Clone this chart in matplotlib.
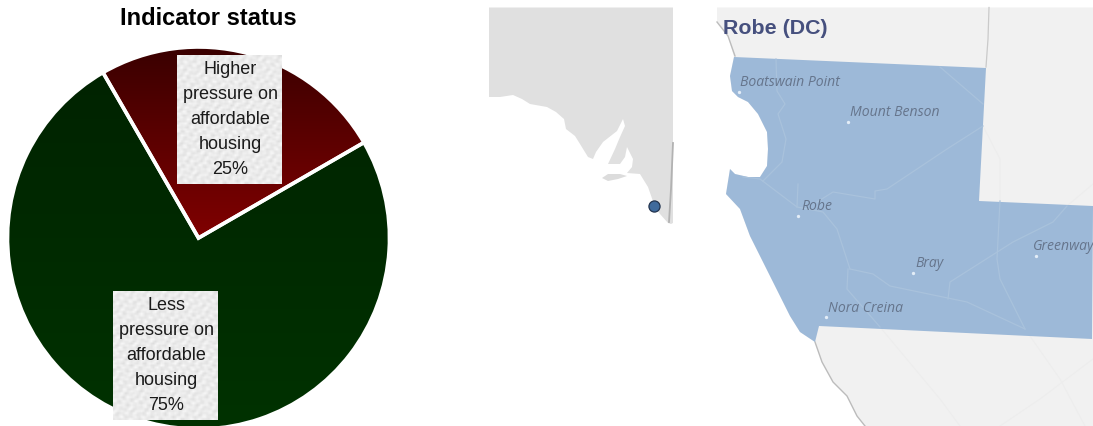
import numpy as np
import matplotlib
matplotlib.use("Agg")
import matplotlib.pyplot as plt
from matplotlib.colors import LinearSegmentedColormap

# pie values
status_labels = ["Higher\npressure on\naffordable\nhousing", "Less\npressure on\naffordable\nhousing"]
status_values = [25, 75]

# map shapes in image pixels
state_outline = [(489, 8.5), (673, 8.5), (673, 224), (671, 225), (668, 224), (660, 215), (655, 208), (648, 188),
                 (640, 175), (627, 174), (632, 168), (633, 160), (627, 148), (625, 158), (620, 165), (608, 165),
                 (615, 150), (620, 138), (625, 127), (623, 120), (617, 132), (603, 143), (596, 153), (593, 160),
                 (588, 158), (580, 145), (575, 137), (566, 130), (564, 120), (556, 113), (547, 108), (530, 105),
                 (522, 100), (513, 96), (500, 98), (489, 98)]
kangaroo_island = [(602, 179), (608, 175), (620, 175), (627, 177), (618, 180), (608, 182)]
state_border = [(673, 144), (671, 190), (669, 223)]
site_point = (654, 207)

district_outline = [(734, 58), (986, 69), (979, 202), (1093, 207), (1092, 340), (819, 327), (815, 343), (800, 333),
                    (790, 317), (778, 293), (763, 263), (750, 237), (740, 210), (726, 195), (730, 170), (735, 175),
                    (748, 178), (760, 178), (767, 167), (768, 150), (767, 133), (758, 115), (748, 103), (738, 98),
                    (732, 92), (730, 77)]
land_outline = [(717, 8.5), (1093, 8.5), (1093, 427), (865, 427), (857, 417), (847, 397), (833, 383), (822, 363),
                (815, 343), (800, 333), (790, 317), (778, 293), (763, 263), (750, 237), (740, 210), (726, 195),
                (730, 170), (735, 175), (748, 178), (760, 178), (767, 167), (768, 150), (767, 133), (758, 115),
                (748, 103), (738, 98), (732, 92), (730, 77), (734, 58), (728, 37), (717, 23)]
coast_north = [(717, 23), (728, 37), (735, 57)]
coast_south = [(815, 343), (822, 363), (833, 383), (847, 397), (857, 417), (865, 427)]
north_border = [(989, 8.5), (988, 40), (986, 68)]
roads = [
    [(776, 60), (777, 92), (785, 105), (778, 115), (786, 140), (782, 163), (763, 182)],
    [(743, 178), (760, 180), (797, 208), (823, 213), (837, 230), (850, 270)],
    [(850, 270), (873, 275), (890, 287), (967, 303), (1025, 330)],
    [(983, 127), (947, 150), (887, 190), (875, 192), (875, 200), (833, 193), (817, 203)],
    [(940, 68), (983, 105)],
    [(1067, 207), (1053, 223), (1013, 243), (950, 283), (948, 300)],
    [(1000, 202), (997, 260), (1000, 280), (1025, 330)],
    [(848, 270), (847, 290), (880, 328)],
    [(798, 185), (797, 208)],
]
faint_roads = [
    [(880, 328), (940, 400), (960, 427)],
    [(1025, 330), (1060, 380), (1085, 427)],
    [(1093, 360), (1040, 400), (1000, 427)],
    [(983, 127), (1000, 160), (1000, 202)],
    [(1067, 207), (1093, 185)],
]

town_names = ["Boatswain Point", "Mount Benson", "Robe", "Bray", "Nora Creina", "Greenway"]
town_x = [738.5, 848, 798, 913, 826, 1036]
town_y = [93, 123, 217, 274, 318, 257]
label_x = [740, 850, 801, 915, 828, 1033]
label_y = [83, 113, 207, 264, 309, 247]

W, H = 1093, 427
fig = plt.figure(figsize=(W / 100, H / 100), dpi=100)
plt.rcParams['font.family'] = ['Liberation Sans', 'DejaVu Sans']

# pie in its own axes, it runs off the bottom of the picture
ax_pie = fig.add_axes([7.5 / W, -3 / H, 382 / W, 382 / H], zorder=1)
wedges, _ = ax_pie.pie(status_values, startangle=30, radius=1, wedgeprops=dict(edgecolor='white', linewidth=2.6))

grad = np.linspace(0, 1, 256).reshape(-1, 1)
cmaps = [LinearSegmentedColormap.from_list("red", ["#3a0000", "#800000"]),
         LinearSegmentedColormap.from_list("green", ["#002200", "#003200"])]
for wedge, cmap, ext in zip(wedges, cmaps, [(-1, 1, 0, 1), (-1, 1, -1, 1)]):
    im = ax_pie.imshow(grad, extent=ext, cmap=cmap, aspect='auto', origin='upper', zorder=1)
    im.set_clip_path(wedge.get_path(), wedge.get_transform())
    wedge.set_facecolor('none')
    wedge.set_zorder(2)
ax_pie.set_xlim(-1, 1)
ax_pie.set_ylim(-1, 1)
ax_pie.axis('off')

# everything else is placed in image pixels
ax = fig.add_axes([0, 0, 1, 1], zorder=2)
ax.patch.set_alpha(0)
ax.axis('off')

ax.text(208, 18.5, "Indicator status", ha='center', va='center', fontsize=17, fontweight='bold', color='black')

# mottled paper look of the label boxes
def paper(x0, y0, x1, y1):
    xx, yy = np.meshgrid(np.arange(0, x1 - x0, 2.0), np.arange(0, y1 - y0, 2.0))
    tex = np.sin(xx * 0.9 + 2 * np.sin(yy * 0.37)) + np.sin(yy * 1.1 + 2 * np.sin(xx * 0.29)) + np.sin((xx + yy) * 0.53)
    ax.imshow(235 + 5 * tex, extent=(x0, x1, y1, y0), cmap='gray', vmin=0, vmax=255, aspect='auto', zorder=3,
              interpolation='bilinear')

boxes = [(177, 56, 282, 185), (113, 292, 218, 421)]
for (x0, y0, x1, y1), lab, val in zip(boxes, status_labels, status_values):
    paper(x0, y0, x1, y1)
    ax.text((x0 + x1) / 2 + 1, (y0 + y1) / 2 - 1, f"{lab}\n{val}%", ha='center', va='center', fontsize=13,
            linespacing=1.61, color='#1a1a1a', zorder=4)

# state locator map
ax.fill(*zip(*state_outline), color='#e0e0e0', lw=0, zorder=1)
ax.fill(*zip(*kangaroo_island), color='#dcdcdc', lw=0, zorder=1)
ax.plot(*zip(*state_border), color='#b2b2b2', lw=1.3, zorder=2)
ax.plot(*site_point, 'o', ms=8, mfc='#3f6a9c', mec='#23344f', mew=0.9, zorder=3)

# district map
ax.fill(*zip(*land_outline), color='#f1f1f1', lw=0, zorder=1)
for r in faint_roads:
    ax.plot(*zip(*r), color='#ededed', lw=0.8, zorder=1.5)
ax.plot(*zip(*coast_north), color='#bcbcbc', lw=1.0, zorder=2)
ax.plot(*zip(*coast_south), color='#bcbcbc', lw=1.0, zorder=2)
ax.plot(*zip(*north_border), color='#cacaca', lw=0.9, zorder=2)
ax.fill(*zip(*district_outline), color='#9db9d8', lw=0, zorder=2)
for r in roads:
    ax.plot(*zip(*r), color='#a9c2dc', lw=0.9, zorder=2.5)
ax.plot(town_x, town_y, 'o', ms=2.4, color='#e3edf7', mew=0, zorder=3)
for name, x, y in zip(town_names, label_x, label_y):
    ax.text(x, y, name, ha='left', va='center', fontsize=10.1, style='italic', color='#66758c',
            family=['Open Sans', 'DejaVu Sans'], zorder=4, clip_on=True)
ax.text(723, 29, "Robe (DC)", ha='left', va='center', fontsize=15.4, fontweight='bold', color='#46507e', zorder=4)

ax.set_xlim(0, W)
ax.set_ylim(H, 0)

fig.savefig("out.png", dpi=100)
